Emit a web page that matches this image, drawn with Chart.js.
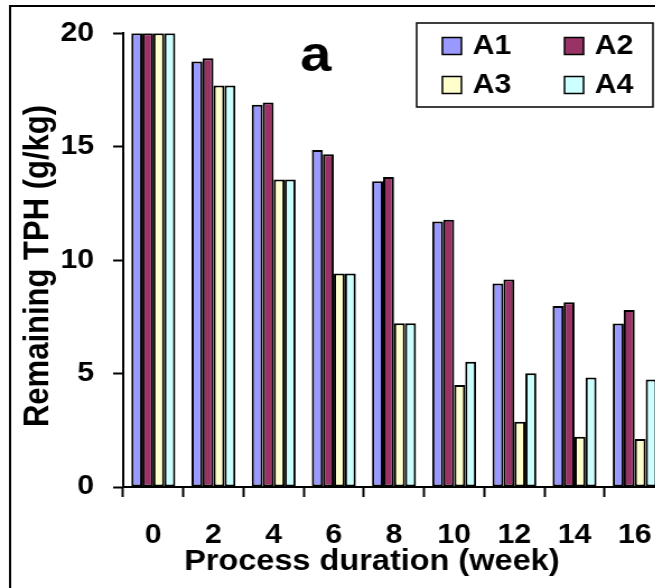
<!DOCTYPE html>
<html>
<head>
<meta charset="utf-8">
<script src="https://cdn.jsdelivr.net/npm/chart.js@4/dist/chart.umd.min.js"></script>
<style>
  html, body { margin: 0; padding: 0; background: #fff; overflow: hidden; }
  #wrap { width: 655px; height: 588px; overflow: hidden; position: relative; }
  /* the figure is drawn a little narrow and widened, like the original export */
  #tphChart { position: absolute; left: 0; top: 0; transform: scaleX(1.12); transform-origin: 0 0; }
</style>
</head>
<body>
<div id="wrap">
  <canvas id="tphChart" width="604" height="588"></canvas>
</div>
<script>
const weeks = ['0', '2', '4', '6', '8', '10', '12', '14', '16'];
const seriesNames = ['A1', 'A2', 'A3', 'A4'];
const a1 = [20, 18.75, 16.85, 14.85, 13.48, 11.7, 8.97, 7.98, 7.21];
const a2 = [20, 18.9, 16.95, 14.67, 13.66, 11.78, 9.15, 8.14, 7.8];
const a3 = [20, 17.7, 13.55, 9.41, 7.22, 4.49, 2.88, 2.22, 2.11];
const a4 = [20, 17.7, 13.55, 9.41, 7.22, 5.52, 5.01, 4.83, 4.74];
const yTicks = [0, 5, 10, 15, 20];

const fills = ['#9999ff', '#993366', '#ffffcc', '#ccffff'];
const FONT = "'Liberation Sans', Arial, sans-serif";

// frame, panel letter, axis titles and boxed legend
const decorations = {
  id: 'decorations',
  afterDraw(chart) {
    const ctx = chart.ctx;
    ctx.save();
    ctx.strokeStyle = '#000';
    ctx.lineWidth = 2;
    ctx.strokeRect(9, 6, 700, 700);

    ctx.fillStyle = '#000';
    ctx.font = 'bold 50px ' + FONT;
    ctx.textAlign = 'center';
    ctx.textBaseline = 'alphabetic';
    ctx.fillText('a', 282, 71);

    ctx.font = 'bold 29px ' + FONT;
    ctx.fillText('Process duration (week)', 332, 570);

    ctx.save();
    ctx.translate(43, 266);
    ctx.rotate(-Math.PI / 2);
    ctx.font = 'bold 31px ' + FONT;
    ctx.fillText('Remaining TPH (g/kg)', 0, 0);
    ctx.restore();

    // legend box
    ctx.lineWidth = 1.5;
    ctx.strokeRect(372, 23, 211, 84);
    const cols = [395, 504];
    const rows = [46, 85];
    ctx.font = 'bold 27px ' + FONT;
    ctx.textAlign = 'left';
    ctx.textBaseline = 'middle';
    chart.data.datasets.forEach((ds, i) => {
      const x = cols[i % 2];
      const y = rows[Math.floor(i / 2)];
      ctx.fillStyle = ds.backgroundColor;
      ctx.fillRect(x, y - 8.5, 17, 17);
      ctx.strokeRect(x, y - 8.5, 17, 17);
      ctx.fillStyle = '#000';
      ctx.fillText(ds.label, x + 27, y + 1);
    });
    ctx.restore();
  }
};

new Chart(document.getElementById('tphChart'), {
  type: 'bar',
  data: {
    labels: weeks,
    datasets: [a1, a2, a3, a4].map((vals, i) => ({
      label: seriesNames[i],
      data: vals,
      backgroundColor: fills[i],
      borderColor: '#000',
      borderWidth: 2,
      borderSkipped: false,
      categoryPercentage: 0.73,
      barPercentage: 1.0
    }))
  },
  options: {
    responsive: false,
    animation: false,
    devicePixelRatio: 1,
    layout: { padding: { top: 33, right: 5, left: 0, bottom: 0 } },
    plugins: {
      legend: { display: false },
      tooltip: { enabled: false }
    },
    scales: {
      x: {
        grid: {
          offset: true,
          drawOnChartArea: false,
          tickLength: 10,
          tickColor: '#000',
          tickWidth: 2
        },
        border: { color: '#000', width: 2 },
        ticks: {
          color: '#000',
          padding: 22,
          maxRotation: 0,
          font: { family: FONT, size: 27, weight: 'bold' }
        },
        afterFit(scale) { scale.height = 101; }
      },
      y: {
        min: 0,
        max: 20,
        afterBuildTicks(scale) { scale.ticks = yTicks.map(v => ({ value: v })); },
        grid: {
          drawOnChartArea: false,
          tickLength: 9,
          tickColor: '#000',
          tickWidth: 2
        },
        border: { color: '#000', width: 2 },
        ticks: {
          color: '#000',
          padding: 17,
          font: { family: FONT, size: 27, weight: 'bold' }
        },
        afterFit(scale) { scale.width = 110; }
      }
    }
  },
  plugins: [decorations]
});
</script>
</body>
</html>
